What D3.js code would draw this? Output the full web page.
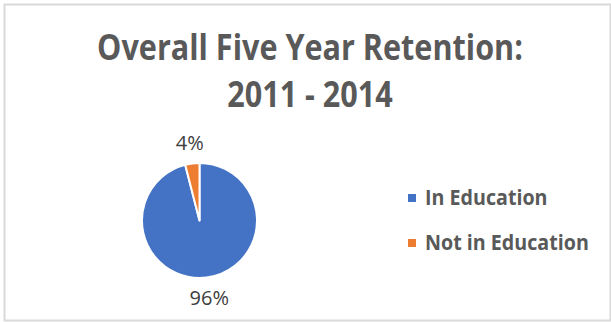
<!DOCTYPE html>
<html>
<head>
<meta charset="utf-8">
<script src="https://cdn.jsdelivr.net/npm/d3@7"></script>
<style>
  body { margin: 0; background: #fff; }
  svg { display: block; font-family: "Open Sans", "DejaVu Sans", sans-serif; }
</style>
</head>
<body>
<div id="chart"></div>
<script>
const categories = ['In Education', 'Not in Education'];
const values = [96, 4];
const colors = ['#4472C4', '#ED7D31'];
const titleLines = ['Overall Five Year Retention:', '2011 - 2014'];

const width = 611, height = 322;

const svg = d3
  .select('#chart')
  .append('svg')
  .attr('width', width)
  .attr('height', height);

// chart border
svg
  .append('rect')
  .attr('x', 4.5)
  .attr('y', 4.5)
  .attr('width', 606)
  .attr('height', 316)
  .attr('fill', '#fff')
  .attr('stroke', '#d9d9d9')
  .attr('stroke-width', 2);

// fit a text element to a target width
function fitWidth(sel, target) {
  const node = sel.node();
  const fs = parseFloat(sel.style('font-size'));
  const w = node.getComputedTextLength();
  sel.style('font-size', (fs * target / w) + 'px');
}

// title (stretched a little in height, the original font is narrower)
const title = svg
  .append('g')
  .attr('fill', '#595959')
  .attr('font-weight', 700)
  .attr('text-anchor', 'middle');

const t1 = title.append('text').style('font-size', '30px').text(titleLines[0]);
fitWidth(t1, 426);
t1.attr('transform', 'translate(310,60) scale(1,1.15)');
const t2 = title
  .append('text')
  .style('font-size', t1.style('font-size'))
  .attr('transform', 'translate(310,107) scale(1,1.15)')
  .text(titleLines[1]);

// pie
const cx = 199.5, cy = 220.5, r = 57.5;
const pie = d3.pie().sort(null).value((d) => d);
const arcs = pie(values);
const arc = d3.arc().innerRadius(0).outerRadius(r);
const labelArc = d3.arc().innerRadius(78).outerRadius(78);

const g = svg.append('g').attr('transform', `translate(${cx},${cy})`);

g.selectAll('path')
  .data(arcs)
  .join('path')
  .attr('d', arc)
  .attr('fill', (d, i) => colors[i])
  .attr('stroke', '#fff')
  .attr('stroke-width', 2)
  .attr('stroke-linejoin', 'round');

g.selectAll('text')
  .data(arcs)
  .join('text')
  .attr('transform', (d) => `translate(${labelArc.centroid(d)})`)
  .attr('text-anchor', 'middle')
  .attr('dy', '0.36em')
  .attr('fill', '#404040')
  .style('font-size', '20px')
  .text((d) => d.data + '%');

// legend
const legend = svg
  .append('g')
  .selectAll('g')
  .data(categories)
  .join('g')
  .attr('transform', (d, i) => `translate(408,${205 + i * 45})`);

legend
  .append('rect')
  .attr('x', 0)
  .attr('y', -11)
  .attr('width', 8)
  .attr('height', 8)
  .attr('fill', (d, i) => colors[i]);

legend
  .append('text')
  .attr('x', 17)
  .attr('y', 0)
  .attr('fill', '#595959')
  .attr('font-weight', 700)
  .style('font-size', '17px')
  .text((d) => d);

fitWidth(legend.select('text').filter((d, i) => i === 1), 164);
const lfs = legend.select('text').filter((d, i) => i === 1).style('font-size');
legend.select('text').style('font-size', lfs).attr('transform', 'scale(1,1.1)');
</script>
</body>
</html>
